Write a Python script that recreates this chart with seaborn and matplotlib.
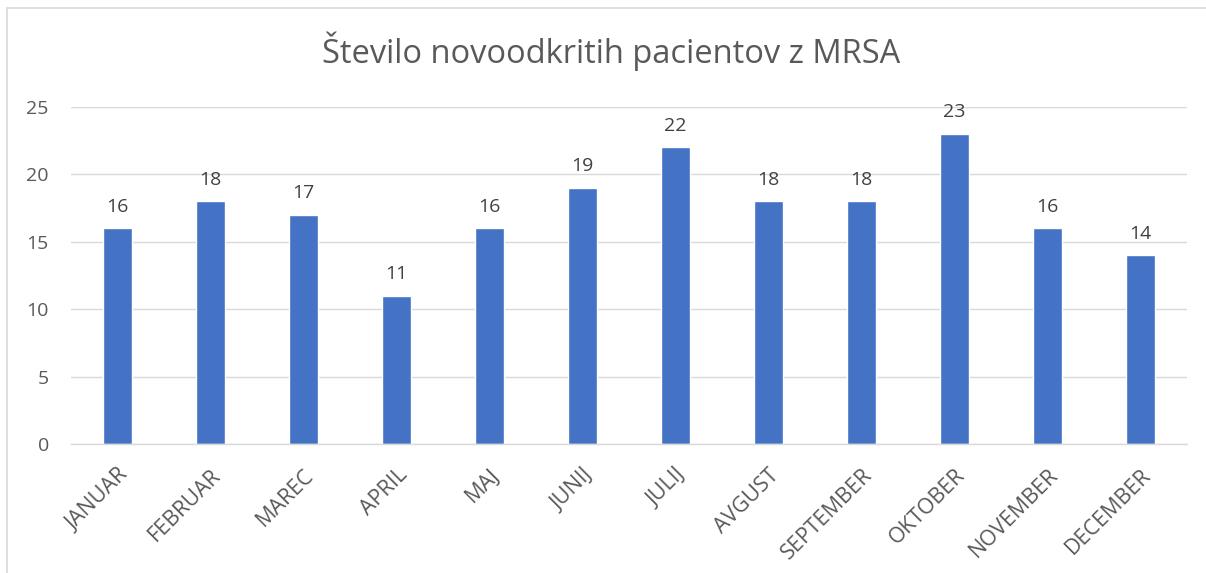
import pandas as pd
import matplotlib.pyplot as plt
import seaborn as sns
from matplotlib.lines import Line2D

months = ["JANUAR", "FEBRUAR", "MAREC", "APRIL", "MAJ", "JUNIJ",
          "JULIJ", "AVGUST", "SEPTEMBER", "OKTOBER", "NOVEMBER", "DECEMBER"]
patients = [16, 18, 17, 11, 16, 19, 22, 18, 18, 23, 16, 14]
y_ticks = [0, 5, 10, 15, 20, 25]

df = pd.DataFrame({"Mesec": months, "Pacienti": patients})

sns.set_theme(style="white")
plt.rcParams["font.family"] = ["Open Sans", "DejaVu Sans"]

fig = plt.figure(figsize=(12.06, 5.73), dpi=100)
ax = fig.add_axes([0.0589, 0.2251, 0.9254, 0.5882])

sns.barplot(data=df, x="Mesec", y="Pacienti", color="#4472C4", width=0.31,
            saturation=1, ax=ax)

ax.set_ylim(0, 25)
ax.set_xlim(-0.5, len(months) - 0.5)
ax.set_yticks(y_ticks)
ax.yaxis.grid(True, color="#D9D9D9", linewidth=1)
ax.set_axisbelow(True)
for side in ["top", "right", "left"]:
    ax.spines[side].set_visible(False)
ax.spines["bottom"].set_color("#D9D9D9")
ax.spines["bottom"].set_linewidth(1)
ax.set_xlabel("")
ax.set_ylabel("")
ax.tick_params(axis="both", length=0, colors="#595959")
ax.tick_params(axis="y", pad=16, labelsize=14)
ax.tick_params(axis="x", pad=15, labelsize=15.5)
plt.setp(ax.get_xticklabels(), rotation=45, ha="right", rotation_mode="anchor")

for i, v in enumerate(patients):
    ax.annotate(str(v), (i, v), xytext=(0, 9), textcoords="offset points",
                ha="center", va="bottom", fontsize=14, color="#404040")

fig.text(0.507, 0.91, "Število novoodkritih pacientov z MRSA", ha="center",
         va="center", fontsize=23.5, color="#595959")

# chart area border (top and left edges visible)
fig.add_artist(Line2D([7 / 1206, 7 / 1206], [0, 1 - 8 / 573],
                      transform=fig.transFigure, color="#D9D9D9", linewidth=1.2))
fig.add_artist(Line2D([7 / 1206, 1], [1 - 8 / 573, 1 - 8 / 573],
                      transform=fig.transFigure, color="#D9D9D9", linewidth=1.2))

fig.savefig("out.png", dpi=100)
